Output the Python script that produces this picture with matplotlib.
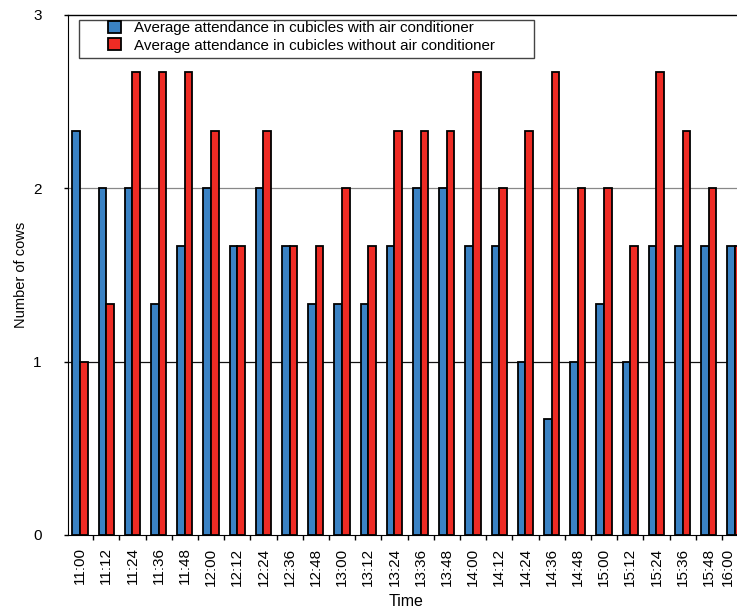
import matplotlib
matplotlib.use("Agg")
import matplotlib.pyplot as plt
import matplotlib.transforms as mtransforms
from matplotlib.patches import Rectangle
import numpy as np

plt.rcParams['font.family'] = ['Liberation Sans', 'DejaVu Sans']

# Data
times = ["11:00", "11:12", "11:24", "11:36", "11:48", "12:00", "12:12", "12:24",
         "12:36", "12:48", "13:00", "13:12", "13:24", "13:36", "13:48", "14:00",
         "14:12", "14:24", "14:36", "14:48", "15:00", "15:12", "15:24", "15:36",
         "15:48", "16:00"]
with_ac = [2.33, 2.0, 2.0, 1.33, 1.67, 2.0, 1.67, 2.0, 1.67, 1.33, 1.33, 1.33, 1.67,
           2.0, 2.0, 1.67, 1.67, 1.0, 0.67, 1.0, 1.33, 1.0, 1.67, 1.67, 1.67, 1.67]
without_ac = [1.0, 1.33, 2.67, 2.67, 2.67, 2.33, 1.67, 2.33, 1.67, 1.67, 2.0, 1.67, 2.33,
              2.33, 2.33, 2.67, 2.0, 2.33, 2.67, 2.0, 2.0, 1.67, 2.67, 2.33, 2.0, 1.67]
series_labels = ["Average attendance in cubicles with air conditioner",
                 "Average attendance in cubicles without air conditioner"]

blue = "#3a82c4"
red = "#ee2b24"

fig = plt.figure(figsize=(7.37, 6.11), dpi=100)
ax = fig.add_axes([68 / 737, 76 / 611, 669 / 737, 520 / 611])

x = np.arange(len(times))
w = 0.29
ax.bar(x - w / 2, with_ac, w, color=blue, edgecolor="black", linewidth=1.3,
       label=series_labels[0], zorder=3)
ax.bar(x + w / 2, without_ac, w, color=red, edgecolor="black", linewidth=1.3,
       label=series_labels[1], zorder=3)

ax.set_yticks([0, 1, 2, 3])
# gridlines (the one at 2 is lighter in the original)
ax.axhline(1, color="#111111", linewidth=0.9, zorder=1)
ax.axhline(2, color="#888888", linewidth=0.9, zorder=1)

ax.set_xticks(x)
ax.set_xticklabels(times, rotation=90, fontsize=11)
ax.set_xticks(np.arange(len(times) + 1) - 0.5, minor=True)
ax.tick_params(axis="x", which="major", length=0, pad=9)
ax.tick_params(axis="x", which="minor", length=3.5, width=1)
ax.tick_params(axis="y", length=3, width=1, labelsize=11, pad=16)

# limits after the ticks, set_xticks would widen them otherwise
# (the original image is cut off on the right, through the last group)
ax.set_ylim(0, 3)
x0 = -0.46
ax.set_xlim(x0, x0 + 669 / 26.2)

# nudge the last label in a bit so it is not cut by the edge
last = ax.get_xticklabels()[-1]
last.set_transform(last.get_transform() +
                   mtransforms.ScaledTranslation(-0.07, 0, fig.dpi_scale_trans))

ax.spines["right"].set_visible(False)
ax.spines["top"].set_linewidth(1)

ax.set_ylabel("Number of cows", fontsize=10.5)
ax.yaxis.set_label_coords(-0.06, 0.5)
ax.set_xlabel("Time", fontsize=11.5)
ax.xaxis.set_label_coords(0.505, -0.113)

# legend box drawn separately, it is wider than its entries
ax.add_patch(Rectangle((11 / 669, 1 - 43 / 520), 455 / 669, 38 / 520,
                       transform=ax.transAxes, facecolor="white",
                       edgecolor="#444444", linewidth=1, zorder=4))
leg = ax.legend(loc="upper left", bbox_to_anchor=(108 / 737, 1 - 21 / 611),
                bbox_transform=fig.transFigure, fontsize=10.9, frameon=False,
                handlelength=0.85, handleheight=0.85, borderpad=0,
                labelspacing=0.2, handletextpad=0.85, borderaxespad=0)
leg.set_zorder(5)

fig.savefig("out.png", dpi=100)
